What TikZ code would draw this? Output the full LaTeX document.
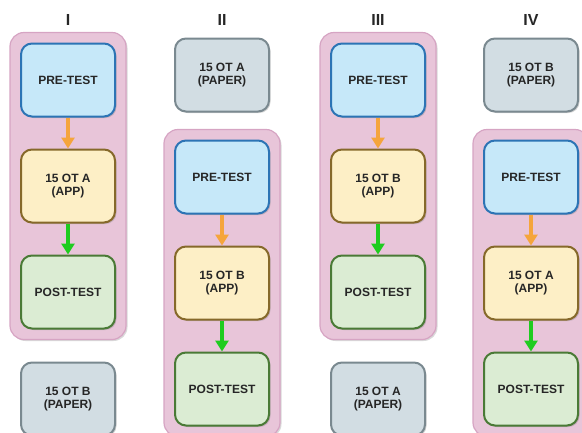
\documentclass[tikz,border=0pt]{standalone}
\usepackage{fontspec}
\setmainfont{Liberation Sans}
\usepackage{tikz}
\usetikzlibrary{positioning,fit,backgrounds,shadows,arrows.meta}
\definecolor{preFill}{HTML}{C6E8F9}
\definecolor{preLine}{HTML}{2C74B5}
\definecolor{appFill}{HTML}{FDEFC6}
\definecolor{appLine}{HTML}{86692A}
\definecolor{postFill}{HTML}{DBECD3}
\definecolor{postLine}{HTML}{4A7A36}
\definecolor{paperFill}{HTML}{D2DDE3}
\definecolor{paperLine}{HTML}{7A8990}
\definecolor{panelFill}{HTML}{E8C5D9}
\definecolor{panelLine}{HTML}{D6A4C3}
\definecolor{arrowA}{HTML}{F5A53C}
\definecolor{arrowB}{HTML}{1FCC1F}
\definecolor{txt}{HTML}{262626}

\begin{document}
\begin{tikzpicture}[x=1pt,y=-1pt,node distance=31pt,
    box/.style={rounded corners=11pt,minimum width=94pt,minimum height=73pt,
      line width=2pt,align=center,text=txt,font=\bfseries\fontsize{12}{13.5}\selectfont,
      drop shadow={shadow xshift=1.5pt,shadow yshift=-1.5pt,opacity=0.35,fill=gray}},
    pretest/.style={box,fill=preFill,draw=preLine},
    apptest/.style={box,fill=appFill,draw=appLine},
    posttest/.style={box,fill=postFill,draw=postLine},
    paper/.style={box,fill=paperFill,draw=paperLine},
    panel/.style={rounded corners=14pt,inner sep=10pt,fill=panelFill,draw=panelLine,line width=1.2pt,
      drop shadow={shadow xshift=1.5pt,shadow yshift=-1.5pt,opacity=0.3,fill=gray}},
    head/.style={font=\bfseries\fontsize{16}{18}\selectfont,text=txt},
    flowA/.style={draw=arrowA,line width=3.5pt,-{Triangle[width=13pt,length=11pt]}},
    flowB/.style={draw=arrowB,line width=3.5pt,-{Triangle[width=13pt,length=11pt]}}]
  \useasboundingbox (0,0) rectangle (582,432);

  \node[head] (h1) at (68,20) {I};
  \node[head] (h2) at (222,20) {II};
  \node[head] (h3) at (378,20) {III};
  \node[head] (h4) at (531,20) {IV};

  \node[pretest] (pre1) at (68,80) {PRE-TEST};
  \node[apptest,below=of pre1] (app1) {15 OT A\\(APP)};
  \node[posttest,below=of app1] (post1) {POST-TEST};
  \node[paper,below=32pt of post1] (pap1) {15 OT B\\(PAPER)};

  \node[paper] (pap2) at (222,75) {15 OT A\\(PAPER)};
  \node[pretest,below=27pt of pap2] (pre2) {PRE-TEST};
  \node[apptest,below=of pre2] (app2) {15 OT B\\(APP)};
  \node[posttest,below=of app2] (post2) {POST-TEST};

  \node[pretest] (pre3) at (378,80) {PRE-TEST};
  \node[apptest,below=of pre3] (app3) {15 OT B\\(APP)};
  \node[posttest,below=of app3] (post3) {POST-TEST};
  \node[paper,below=32pt of post3] (pap3) {15 OT A\\(PAPER)};

  \node[paper] (pap4) at (531,75) {15 OT B\\(PAPER)};
  \node[pretest,below=27pt of pap4] (pre4) {PRE-TEST};
  \node[apptest,below=of pre4] (app4) {15 OT A\\(APP)};
  \node[posttest,below=of app4] (post4) {POST-TEST};

  \begin{scope}[on background layer]
    \node[panel,fit=(pre1)(post1)] (grp1) {};
    \node[panel,fit=(pre2)(post2)] (grp2) {};
    \node[panel,fit=(pre3)(post3)] (grp3) {};
    \node[panel,fit=(pre4)(post4)] (grp4) {};
  \end{scope}

  \draw[flowA] (pre1) -- (app1);
  \draw[flowB] (app1) -- (post1);
  \draw[flowA] (pre2) -- (app2);
  \draw[flowB] (app2) -- (post2);
  \draw[flowA] (pre3) -- (app3);
  \draw[flowB] (app3) -- (post3);
  \draw[flowA] (pre4) -- (app4);
  \draw[flowB] (app4) -- (post4);
\end{tikzpicture}
\end{document}
